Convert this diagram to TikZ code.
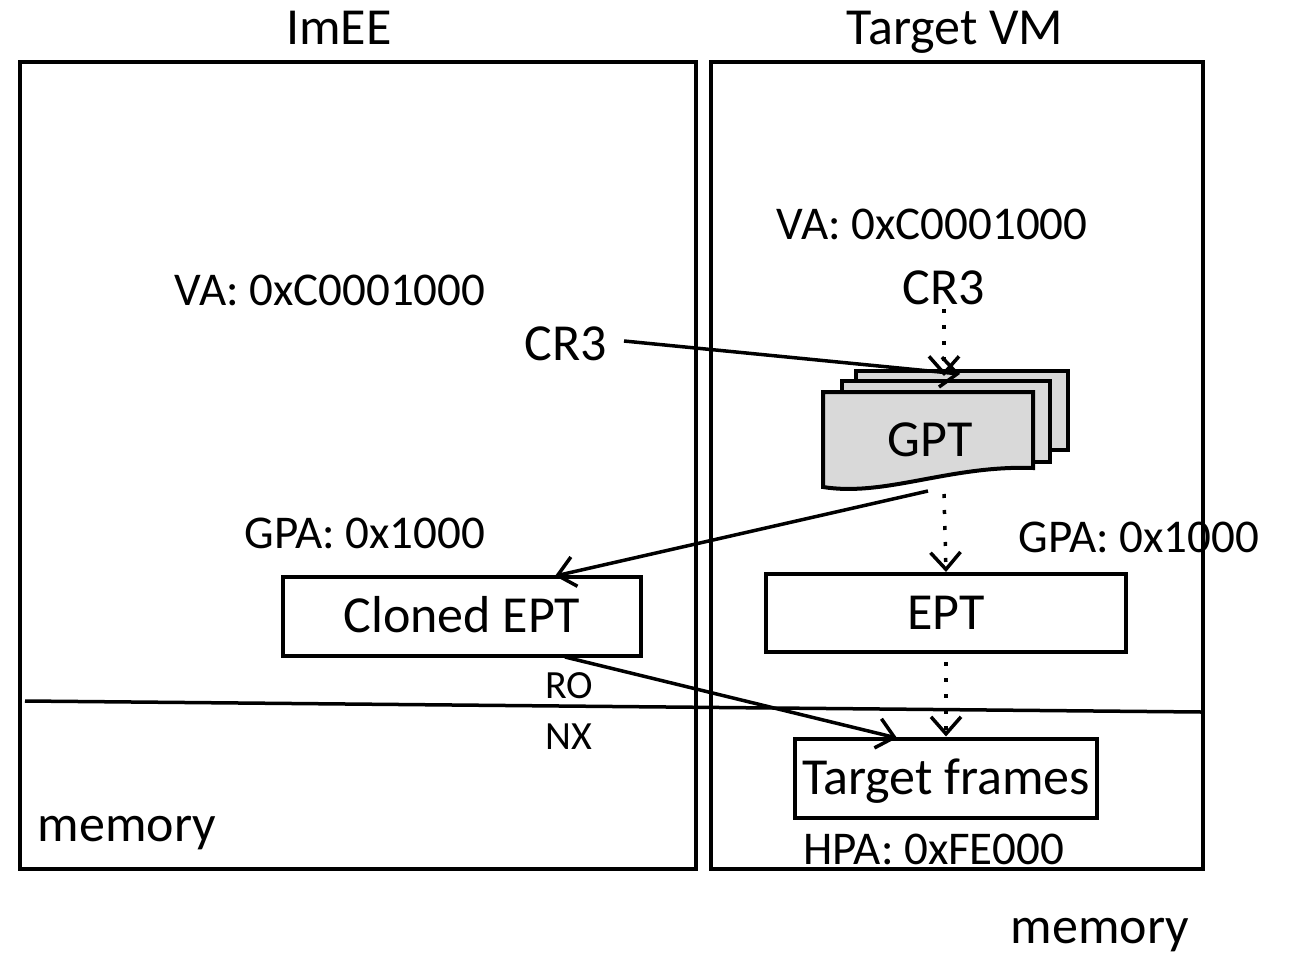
\documentclass[tikz,border=0pt]{standalone}
\usepackage{fontspec}
\setmainfont{Carlito}
\usetikzlibrary{arrows.meta}
\begin{document}
\begin{tikzpicture}[x=1pt,y=-1pt,
  frame/.style={draw, line width=4pt},
  big/.style={inner sep=0pt, text height=33.5pt, text depth=0pt, font=\fontsize{52}{60}\selectfont},
  mid/.style={inner sep=0pt, text height=30.3pt, text depth=0pt, font=\fontsize{47}{56}\selectfont},
  small/.style={inner sep=0pt, text height=25.8pt, text depth=0pt, font=\fontsize{40}{48}\selectfont},
  boxnode/.style={big, draw, line width=4pt},
  page/.style={draw, line width=4pt, fill=black!15},
  link/.style={line width=3.5pt, -{Straight Barb[length=17pt,width=30pt,line width=3.5pt]}},
  dotlink/.style={link, dash pattern=on 4pt off 12pt}
]
\useasboundingbox (0,0) rectangle (1289,957);

% two domains
\draw[frame] (20,62) rectangle (696,869);
\draw[frame] (711,62) rectangle (1203,869);
\node[big] (imee) at (339,28) {ImEE};
\node[big] (tvm) at (955,28) {Target VM};

% boundary between page tables and memory
\coordinate (memL) at (25,701);
\coordinate (memR) at (1201,712);
\draw[line width=3.5pt] (memL) -- (memR);

% addresses
\node[mid] (vaL) at (330,290) {VA: 0xC0001000};
\node[mid] (vaR) at (932,224) {VA: 0xC0001000};
\node[big] (cr3L) at (566,344) {CR3};
\node[big] (cr3R) at (944,288) {CR3};
\node[mid] (gpaL) at (365,533) {GPA: 0x1000};
\node[mid] (gpaR) at (1139,537) {GPA: 0x1000};
\node[small] (ro) at (569,686) {RO};
\node[small] (nx) at (569,737) {NX};
\node[mid] (hpa) at (934,849) {HPA: 0xFE000};
\node[big] (memA) at (127,825) {memory};
\node[big] (memB) at (1100,927) {memory};

% guest page tables (stacked documents)
\draw[page] (856,371) rectangle (1068,450);
\draw[page] (842,381) rectangle (1050,462);
\draw[page] (823,392) -- (1033,392) -- (1033,468)
  .. controls (950,465) and (885,497) .. (823,487) -- cycle;
\node[big] (gpt) at (930,440) {GPT};
\coordinate (gptTop) at (944,376);
\coordinate (gptHit) at (960,374);
\coordinate (gptBot) at (944,494);
\coordinate (gptOut) at (928,491);

% tables and frames
\node[boxnode, minimum width=358pt, minimum height=79pt] (cept) at (462,616) {Cloned EPT};
\node[boxnode, minimum width=360pt, minimum height=78pt] (ept) at (946,613) {EPT};
\node[boxnode, minimum width=302pt, minimum height=79pt] (tf) at (946,778) {Target frames};
\coordinate (ceptIn) at (555,576);
\coordinate (ceptOut) at (565,657);
\coordinate (tfIn) at (897,738);
\coordinate (cr3Lout) at (624,341);

% translation paths
\draw[dotlink] (cr3R.south) ++(0,4) -- (gptTop);
\draw[dotlink] (gptBot) -- (ept.north);
\draw[dotlink] (ept.south) ++(0,8) -- (tf.north);
\draw[link] (cr3Lout) -- (gptHit);
\draw[link] (gptOut) -- (ceptIn);
\draw[link] (ceptOut) -- (tfIn);
\end{tikzpicture}
\end{document}
